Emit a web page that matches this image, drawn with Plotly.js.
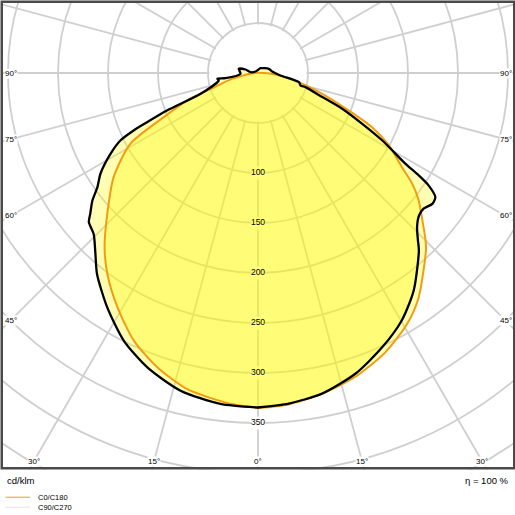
<!DOCTYPE html>
<html>
<head>
<meta charset="utf-8">
<script src="https://cdn.plot.ly/plotly-3.0.1.min.js"></script>
<style>
html,body{margin:0;padding:0;width:515px;height:515px;overflow:hidden;background:#fff;}
#chart{position:absolute;left:-222.5px;top:-407.5px;width:960px;height:960px;}
</style>
</head>
<body>
<div id="chart"></div>
<script>
// ---- data (gamma angle from nadir in degrees, intensity in cd/klm) ----
const c0Angle   = [0, 5, 11.3, 17.8, 24.5, 30.7, 35.6, 43.5, 45, 48.7, 51.6, 54.3, 56.8, 61, 64.6, 67.6, 72, 76.3, 82, 88];
const c0Value   = [335, 333, 327, 319, 307, 292, 276, 244, 237, 218, 205, 190, 172, 150, 126, 98, 68, 46, 26, 10];
const c180Angle = [0, 4.8, 12.6, 18.9, 24.9, 31, 36.9, 41.4, 47, 54.2, 61, 64.9, 69.3, 71.8, 76.7, 81, 88];
const c180Value = [335, 332, 324, 311, 295, 273, 251, 232, 206, 178, 146, 104, 72, 46.5, 28, 13, 6];
const c90Angle  = [0, 5.3, 11.3, 18, 24.4, 30.2, 35.6, 42.2, 43.7, 45.9, 48.5, 50.7, 53.1, 55, 56.6, 57.5, 58.4, 61.5, 64, 67, 69.7, 73.4, 73.6, 77.3, 83.7, 96, 111, 152];
const c90Value  = [334.5, 332, 327, 316, 301, 286, 267.5, 239.5, 231.5, 221.5, 215, 214, 218, 216.5, 204.5, 190.5, 173, 141.5, 116, 91.5, 67.5, 49.5, 44.5, 42, 22.5, 14.3, 11.6, 5.4];
const c270Angle = [0, 6.5, 13.7, 20.6, 26.6, 32.8, 38.7, 42, 45.6, 48.6, 50, 52.4, 54.6, 57.4, 61.3, 63.9, 65.2, 66.1, 67.6, 70.1, 79.2, 81.9, 80.9, 87.4, 102.3, 105.6, 96, 121];
const c270Value = [334.5, 333, 327, 314.5, 299.5, 278.5, 257.5, 243, 230, 225.5, 219, 209, 197, 187, 168, 153, 137, 121, 98, 61, 40, 41, 33, 17.5, 19.7, 13, 7.5, 2.9];
const ringValues = [100, 150, 200, 250, 300, 350];
const ringLabels = ['100', '150', '200', '250', '300', '350'];
const angleLabelValues = [0, 15, 30, 45, 60, 75, 90];
const angleLabels = ['0°', '15°', '30°', '45°', '60°', '75°', '90°'];
const unitLabel = 'cd/klm';
const efficiencyLabel = 'η = 100 %';
const seriesNames = ['C0/C180', 'C90/C270'];

// ---- geometry of the page ----
const W = 960, OX = 222.5, OY = 407.5;   // figure offset on the page
const CX = 257.5, CY = 72.5;             // luminaire centre on the page
const RMAX = 480, RHOLE = 48.5;
const px = x => (x + OX) / W;
const py = y => 1 - (y + OY) / W;

function closedCurve(leftA, leftV, rightA, rightV) {
  const th = [], r = [];
  for (let i = leftA.length - 1; i >= 0; i--) { th.push(-leftA[i]); r.push(leftV[i]); }
  for (let i = 0; i < rightA.length; i++) { th.push(rightA[i]); r.push(rightV[i]); }
  th.push(th[0]); r.push(r[0]);
  return {th, r};
}
const cA = closedCurve(c180Angle, c180Value, c0Angle, c0Value);
const cB = closedCurve(c270Angle, c270Value, c90Angle, c90Value);

const ORANGE = '#f39c12';
const GRID = '#cfcfcf';
const FONT = 'Liberation Sans, Arial, sans-serif';
const SM = {shape:'spline', smoothing:0.7};

const traces = [
  // white backgrounds behind the ring labels (on the grid subplot)
  {type:'scatterpolar', subplot:'polar', r: ringValues, theta: ringValues.map(() => 0),
   mode:'markers', marker:{symbol:'square', size:13, color:'white'}, hoverinfo:'skip', showlegend:false},
  {type:'scatterpolar', subplot:'polar2', r: cB.r, theta: cB.th, mode:'lines', fill:'toself',
   fillcolor:'rgba(255,252,0,0.30)', line:Object.assign({width:0, color:'rgba(0,0,0,0)'}, SM), hoverinfo:'skip', showlegend:false},
  {type:'scatterpolar', subplot:'polar2', r: cA.r, theta: cA.th, mode:'lines', fill:'toself',
   fillcolor:'rgba(255,252,0,0.32)', line:Object.assign({width:0, color:'rgba(0,0,0,0)'}, SM), hoverinfo:'skip', showlegend:false},
  {type:'scatterpolar', subplot:'polar2', r: cA.r, theta: cA.th, mode:'lines', name: seriesNames[0],
   line:Object.assign({width:2, color:ORANGE}, SM), hoverinfo:'skip', showlegend:false},
  {type:'scatterpolar', subplot:'polar2', r: cB.r, theta: cB.th, mode:'lines', name: seriesNames[1],
   line:Object.assign({width:2.3, color:'#000'}, SM), hoverinfo:'skip', showlegend:false},
  {type:'scatterpolar', subplot:'polar2', r: ringValues, theta: ringValues.map(() => 0),
   mode:'text', text: ringLabels, textfont:{family:FONT, size:8.5, color:'#000'}, hoverinfo:'skip', showlegend:false}
];

const spokes = [];
for (let a = 0; a < 360; a += 15) spokes.push(a);
const rings = [];
for (let v = 50; v <= 450; v += 50) rings.push(v);

const annotations = [];
// angle labels at the inner edge of the frame
const XL = 10, XR = 505, YB = 461;
angleLabelValues.forEach((g, i) => {
  [-1, 1].forEach(side => {
    if (g === 0 && side === -1) return;
    const rad = g * Math.PI / 180;
    const dx = side * Math.sin(rad), dy = Math.cos(rad);
    let t = Infinity;
    if (Math.abs(dx) > 1e-9) t = Math.min(t, ((side > 0 ? XR : XL) - CX) / dx);
    if (dy > 1e-9) t = Math.min(t, (YB - CY) / dy);
    const x = CX + dx * t, y = CY + dy * t;
    annotations.push({x: px(x), y: py(y), xref:'paper', yref:'paper', text: angleLabels[i],
      showarrow:false, xanchor:'center', yanchor:'middle', bgcolor:'white', borderpad:0,
      font:{family:FONT, size:8, color:'#000'}});
  });
});
annotations.push({x: px(4.5), y: py(480), xref:'paper', yref:'paper', text: unitLabel, showarrow:false,
  xanchor:'left', yanchor:'middle', font:{family:FONT, size:9.5, color:'#000'}});
annotations.push({x: px(510.5), y: py(479.5), xref:'paper', yref:'paper', text: efficiencyLabel, showarrow:false,
  xanchor:'right', yanchor:'middle', font:{family:FONT, size:9.5, color:'#000'}});
annotations.push({x: px(35.5), y: py(497), xref:'paper', yref:'paper', text: seriesNames[0], showarrow:false,
  xanchor:'left', yanchor:'middle', font:{family:FONT, size:7.5, color:'#000'}});
annotations.push({x: px(35.5), y: py(507), xref:'paper', yref:'paper', text: seriesNames[1], showarrow:false,
  xanchor:'left', yanchor:'middle', font:{family:FONT, size:7.5, color:'#000'}});

const shapes = [
  {type:'rect', xref:'paper', yref:'paper', layer:'above', x0:0, x1:1, y0:0, y1:py(469), fillcolor:'white', line:{width:0}},
  {type:'rect', xref:'paper', yref:'paper', layer:'above', x0:0, x1:px(1.5), y0:0, y1:1, fillcolor:'white', line:{width:0}},
  {type:'rect', xref:'paper', yref:'paper', layer:'above', x0:px(513.5), x1:1, y0:0, y1:1, fillcolor:'white', line:{width:0}},
  {type:'rect', xref:'paper', yref:'paper', layer:'above', x0:0, x1:1, y0:py(1.5), y1:1, fillcolor:'white', line:{width:0}},
  {type:'rect', xref:'paper', yref:'paper', layer:'above', x0:px(1.25), x1:px(513.75), y0:py(467.75), y1:py(1.25),
   fillcolor:'rgba(0,0,0,0)', line:{width:2.5, color:'#4a4a4a'}},
  {type:'line', xref:'paper', yref:'paper', layer:'above', x0:px(5), x1:px(29.5), y0:py(496.7), y1:py(496.7),
   line:{width:1, color:ORANGE}},
  {type:'line', xref:'paper', yref:'paper', layer:'above', x0:px(5), x1:px(29.5), y0:py(506.7), y1:py(506.7),
   line:{width:1, color:'#e4e4e4'}}
];

const layout = {
  width: W, height: W, autosize:false,
  margin:{l:0, r:0, t:0, b:0, pad:0},
  paper_bgcolor:'white', showlegend:false,
  polar:{
    domain:{x:[0,1], y:[0,1]}, hole: RHOLE / RMAX, bgcolor:'white',
    radialaxis:{range:[RHOLE, RMAX], tickmode:'array', tickvals: rings, showticklabels:false, ticks:'',
      showline:false, gridcolor:GRID, gridwidth:1.8, layer:'below traces'},
    angularaxis:{rotation:-90, direction:'counterclockwise', tickmode:'array', tickvals: spokes,
      showticklabels:false, ticks:'', showline:false, gridcolor:GRID, gridwidth:1.8, layer:'below traces'}
  },
  polar2:{
    domain:{x:[0,1], y:[0,1]}, bgcolor:'rgba(0,0,0,0)',
    radialaxis:{range:[0, RMAX], showgrid:false, showticklabels:false, ticks:'', showline:false},
    angularaxis:{rotation:-90, direction:'counterclockwise', showgrid:false, showticklabels:false, ticks:'', showline:false}
  },
  shapes: shapes,
  annotations: annotations
};

Plotly.newPlot('chart', traces, layout, {staticPlot:true, displayModeBar:false});
</script>
</body>
</html>
